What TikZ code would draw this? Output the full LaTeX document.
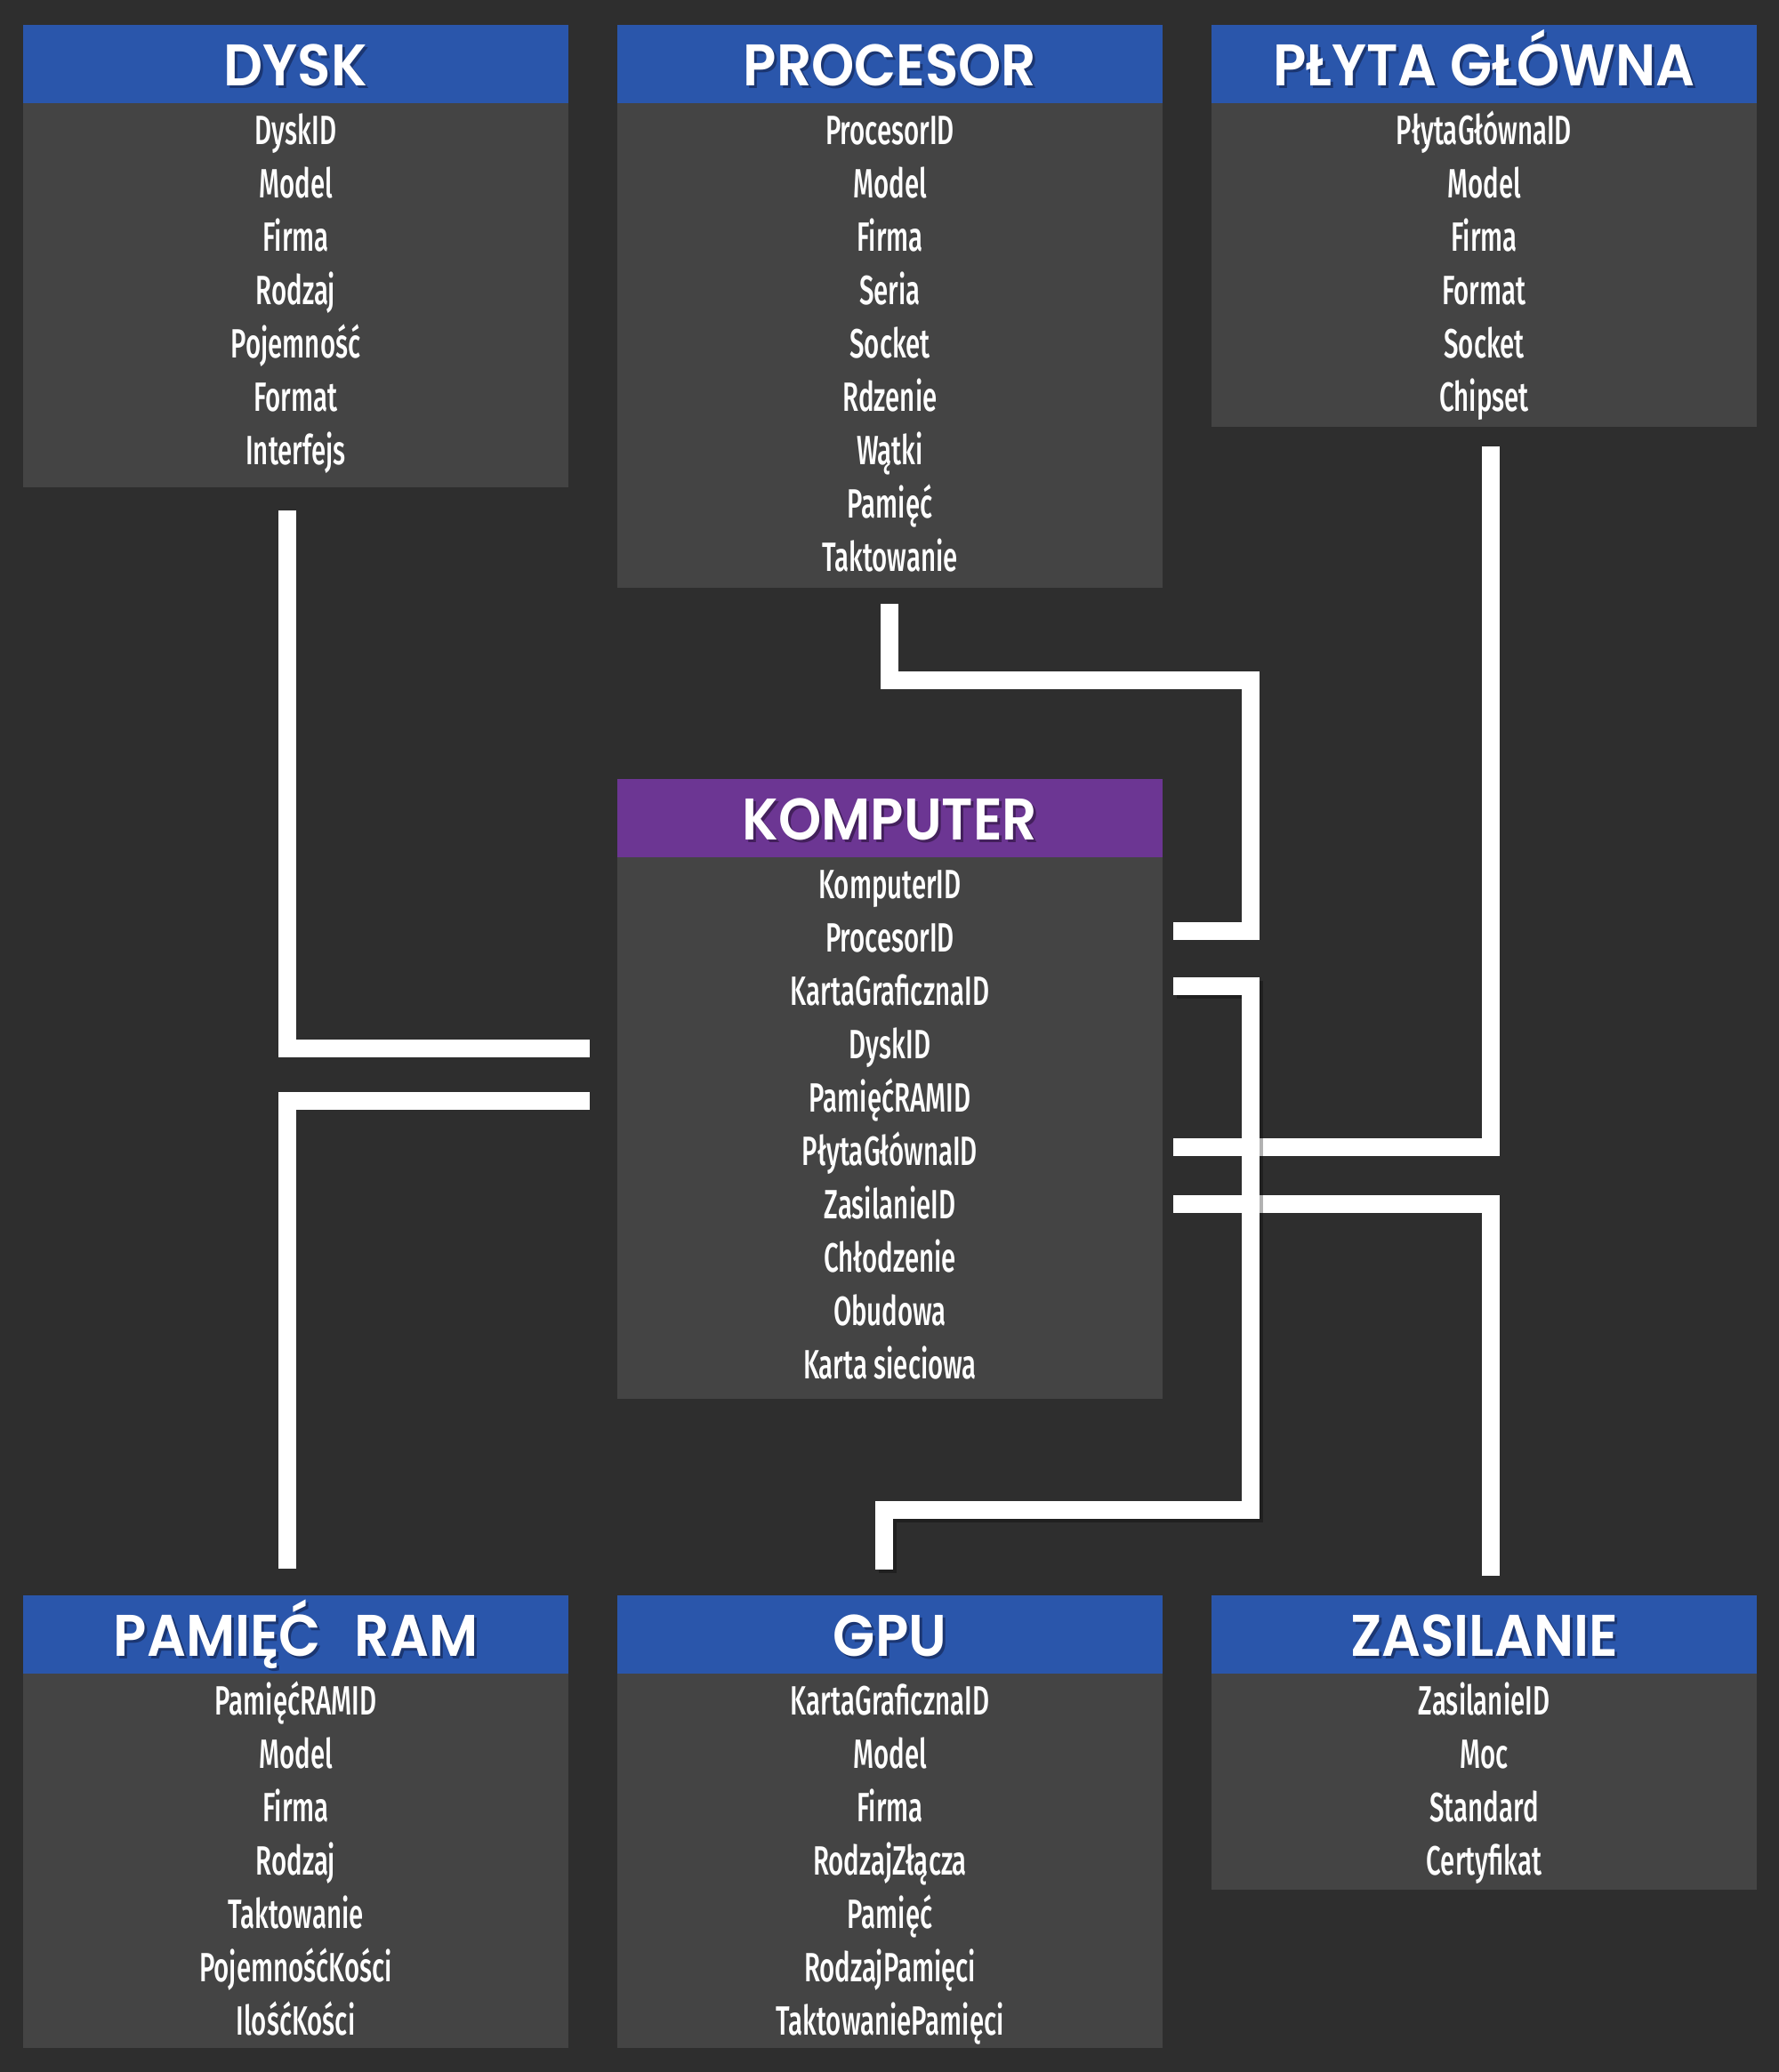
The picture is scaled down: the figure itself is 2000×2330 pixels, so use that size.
\documentclass[tikz,border=0pt]{standalone}
\usepackage{fontspec}
\newfontfamily\titlefont{Poppins}[UprightFont=* SemiBold, FakeStretch=0.93]
\newfontfamily\rowfont{Fira Sans}[UprightFont=* Medium, FakeStretch=0.64]
\definecolor{bg}{HTML}{2E2E2E}
\definecolor{bodyg}{HTML}{444444}
\definecolor{hblue}{HTML}{2A56AB}
\definecolor{hpurple}{HTML}{6C3693}
\definecolor{shblue}{HTML}{1B3672}
\definecolor{shpurple}{HTML}{43205C}
\tikzset{
  hdr/.style={rectangle, inner sep=0, outer sep=0, minimum width=613pt},
  bodybox/.style={rectangle, fill=bodyg, inner sep=0, outer sep=0, minimum width=613pt},
  rowtext/.style={text=white, font=\rowfont\fontsize{46}{50}\selectfont, inner sep=0, anchor=base},
  titletext/.style={text=white, font=\titlefont\fontsize{66}{70}\selectfont, inner sep=0, anchor=base},
  conn/.style={draw=white, line width=20pt, line cap=butt, line join=miter},
}
% #1 name, #2 x left, #3 y top, #4 y header bottom, #5 y bottom, #6 fill, #7 shadow, #8 title, #9 rows
\newcommand\entity[9]{%
  \pgfmathsetmacro\ecx{#2+306.5}%
  \pgfmathsetmacro\ehc{(#3+#4)/2}%
  \pgfmathsetmacro\ehh{#4-#3}%
  \pgfmathsetmacro\ebc{(#4+#5)/2}%
  \pgfmathsetmacro\ebh{#5-#4}%
  \pgfmathsetmacro\etb{\ehc+24}%
  \node[hdr, fill=#6, minimum height=\ehh pt] (#1-h) at (\ecx,\ehc) {};
  \node[bodybox, minimum height=\ebh pt] (#1-b) at (\ecx,\ebc) {};
  \node[titletext, text=#7] (#1-ts) at (\ecx+3,\etb+3) {#8};
  \node[titletext] (#1-t) at (\ecx,\etb) {#8};
  \foreach \r [count=\i] in {#9} {
    \pgfmathsetmacro\ry{#4+30+60*(\i-1)+16}
    \node[rowtext] (#1-r\i) at (\ecx,\ry) {\r};
  }
}
\begin{document}
\begin{tikzpicture}[x=1pt, y=-1pt]
\fill[bg] (0,0) rectangle (2000,2330);
\useasboundingbox (0,0) rectangle (2000,2330);

\entity{dysk}{26}{28}{116}{548}{hblue}{shblue}{DYSK}
  {DyskID,Model,Firma,Rodzaj,Pojemność,Format,Interfejs}
\entity{proc}{694}{28}{116}{661}{hblue}{shblue}{PROCESOR}
  {ProcesorID,Model,Firma,Seria,Socket,Rdzenie,Wątki,Pamięć,Taktowanie}
\entity{plyta}{1362}{28}{116}{480}{hblue}{shblue}{PŁYTA GŁÓWNA}
  {PłytaGłównaID,Model,Firma,Format,Socket,Chipset}
\entity{komp}{694}{876}{964}{1573}{hpurple}{shpurple}{KOMPUTER}
  {KomputerID,ProcesorID,KartaGraficznaID,DyskID,PamięćRAMID,PłytaGłównaID,ZasilanieID,Chłodzenie,Obudowa,Karta sieciowa}
\entity{ram}{26}{1794}{1882}{2303}{hblue}{shblue}{PAMIĘĆ\hspace{0.35em} RAM}
  {PamięćRAMID,Model,Firma,Rodzaj,Taktowanie,PojemnośćKości,IlośćKości}
\entity{gpu}{694}{1794}{1882}{2303}{hblue}{shblue}{GPU}
  {KartaGraficznaID,Model,Firma,RodzajZłącza,Pamięć,RodzajPamięci,TaktowaniePamięci}
\entity{zas}{1362}{1794}{1882}{2125}{hblue}{shblue}{ZASILANIE}
  {ZasilanieID,Moc,Standard,Certyfikat}

% connector end points
\coordinate (dyskc) at (323,574);
\coordinate (ramc) at (323,1764);
\coordinate (procc) at (1000,679);
\coordinate (plytac) at (1676,502);
\coordinate (gpuc) at (994,1765);
\coordinate (zasc) at (1676,1772);
\coordinate (kdysk) at (663,1179);
\coordinate (kram) at (663,1238);
\coordinate (kproc) at (1319,1047);
\coordinate (kgpu) at (1319,1109);
\coordinate (kplyta) at (1319,1290);
\coordinate (kzas) at (1319,1354);

\draw[conn] (dyskc) |- (kdysk);
\draw[conn] (kram) -| (ramc);
\draw[conn] (procc) |- (1406,765) |- (kproc);
\draw[conn] (plytac) |- (kplyta);
\draw[conn] (kzas) -| (zasc);
\draw[conn, draw=black, opacity=0.3, transform canvas={shift={(4,4)}}]
  (kgpu) -| (1406,1698) -| (gpuc);
\draw[conn] (kgpu) -| (1406,1698) -| (gpuc);
\end{tikzpicture}
\end{document}
